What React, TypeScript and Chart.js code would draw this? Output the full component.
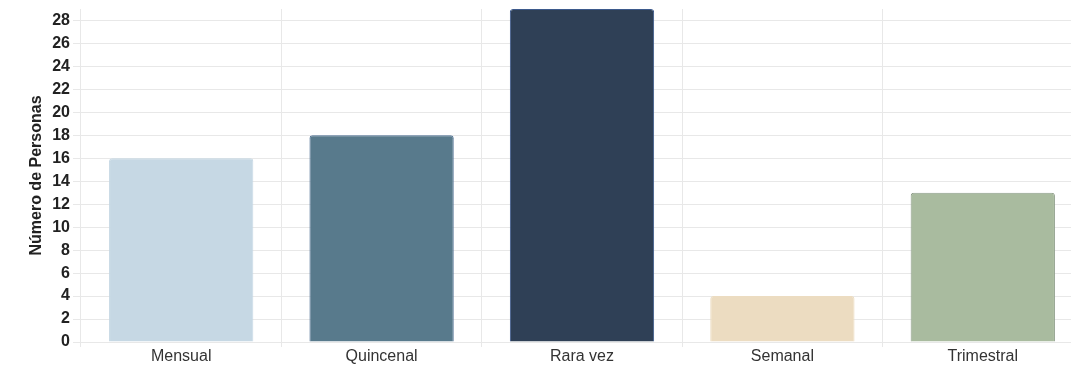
import React, { useEffect, useRef } from "react";
import { Chart, registerables } from "chart.js";

Chart.register(...registerables);

const categories = ["Mensual", "Quincenal", "Rara vez", "Semanal", "Trimestral"];
const values = [16, 18, 29, 4, 13];
const barColors = ["#c6d8e4", "#587a8c", "#2f4056", "#ecdcc1", "#a9bb9f"];
const borderColors = ["#c6d8e4", "#4d6f94", "#3d5a8c", "#ecdcc1", "#8f9e8a"];
const yTitle = "Número de Personas";

export default function App() {
  const ref = useRef<HTMLCanvasElement>(null);
  useEffect(() => {
    document.body.style.overflow = "hidden";
    const ctx = ref.current!;
    const chart = new Chart(ctx, {
      type: "bar",
      data: {
        labels: categories,
        datasets: [
          {
            data: values,
            backgroundColor: barColors,
            borderColor: borderColors,
            borderWidth: 1,
            borderRadius: 3,
            borderSkipped: "bottom",
          },
        ],
      },
      options: {
        animation: false,
        responsive: false,
        maintainAspectRatio: false,
        layout: { padding: { top: 9, left: 27, right: 0, bottom: 0 } },
        plugins: { legend: { display: false }, tooltip: { enabled: false } },
        scales: {
          x: {
            grid: { color: "#e8e8e8", offset: true, tickLength: 5 },
            border: { display: false },
            ticks: {
              color: "#333",
              font: { family: "Liberation Sans, Arial", size: 16 },
              padding: 0,
            },
            afterFit: (s: any) => {
              s.height = 28;
            },
          },
          y: {
            min: 0,
            max: 29,
            grid: { color: "#e8e8e8", tickLength: 8 },
            border: { display: false },
            ticks: {
              stepSize: 2,
              includeBounds: false,
              color: "#222",
              font: { family: "Liberation Sans, Arial", size: 16, weight: "bold", lineHeight: 1 },
              padding: 3,
            },
            title: {
              display: true,
              text: yTitle,
              color: "#222",
              font: { family: "Liberation Sans, Arial", size: 16, weight: "bold" },
              padding: { top: 0, bottom: 3 },
            },
            afterFit: (s: any) => {
              s.paddingTop = 0;
              s.paddingBottom = 0;
            },
          },
        },
      },
    });
    return () => chart.destroy();
  }, []);
  return (
    <div style={{ position: "absolute", left: 0, top: 0, width: 1083, height: 370 }}>
      <canvas ref={ref} width={1083} height={370} style={{ display: "block" }} />
    </div>
  );
}
